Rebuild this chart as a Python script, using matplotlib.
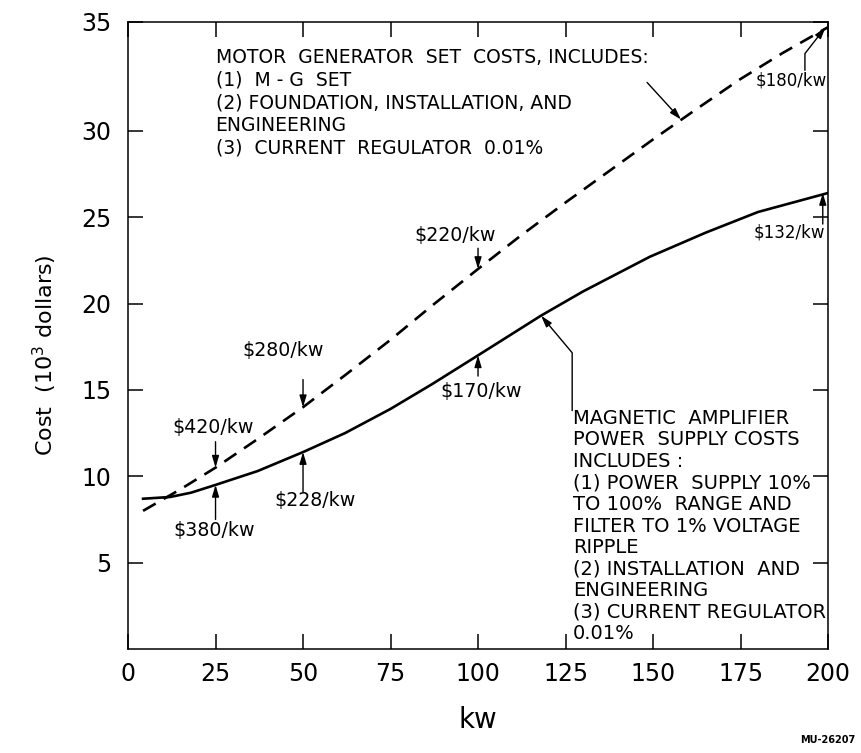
import matplotlib
matplotlib.use("Agg")
import matplotlib.pyplot as plt

plt.rcParams['font.family'] = ['DejaVu Sans']
plt.rcParams['mathtext.default'] = 'regular'

# motor generator set (dashed) and magnetic amplifier supply (solid), cost in 10^3 dollars
mg_kw = [4.3, 15, 25, 37, 50, 62, 75, 87, 100, 112, 125, 137, 150, 162, 175, 187, 200]
mg_cost = [8.0, 9.25, 10.5, 12.15, 14.0, 15.85, 17.9, 19.9, 22.0, 23.9, 25.85, 27.6, 29.5, 31.2, 33.0, 34.5, 36.0]

ma_kw = [4.3, 12, 18, 25, 37, 50, 62, 75, 87, 100, 118, 130, 149, 165, 180, 200]
ma_cost = [8.7, 8.8, 9.05, 9.5, 10.3, 11.4, 12.5, 13.9, 15.35, 17.0, 19.3, 20.7, 22.7, 24.1, 25.3, 26.4]

# unit cost call-outs ($/kw) at given ratings
mg_rate_kw = [25, 50, 100]
mg_rates = [420, 280, 220]
ma_rate_kw = [25, 50, 100]
ma_rates = [380, 228, 170]

mg_text = ("MOTOR  GENERATOR  SET  COSTS, INCLUDES:\n"
           "(1)  M - G  SET\n"
           "(2) FOUNDATION, INSTALLATION, AND\n"
           "ENGINEERING\n"
           "(3)  CURRENT  REGULATOR  0.01%")
ma_text = ("MAGNETIC  AMPLIFIER\n"
           "POWER  SUPPLY COSTS\n"
           "INCLUDES :\n"
           "(1) POWER  SUPPLY 10%\n"
           "TO 100%  RANGE AND\n"
           "FILTER TO 1% VOLTAGE\n"
           "RIPPLE\n"
           "(2) INSTALLATION  AND\n"
           "ENGINEERING\n"
           "(3) CURRENT REGULATOR\n"
           "0.01%")

fig = plt.figure(figsize=(8.61, 7.53), dpi=100)
ax = fig.add_axes([0.1487, 0.1381, 0.813, 0.8327])

ax.plot(mg_kw, mg_cost, color='black', lw=1.9, linestyle=(0, (5.5, 3.5)))
ax.plot(ma_kw, ma_cost, color='black', lw=1.9)

ax.set_xlim(0, 200)
ax.set_ylim(0, 36.3)
ax.set_xticks([0, 25, 50, 75, 100, 125, 150, 175, 200])
ax.set_yticks([5, 10, 15, 20, 25, 30, 36.3], ['5', '10', '15', '20', '25', '30', '35'])
ax.tick_params(direction='in', length=11, width=1.1, top=True, right=True, labelsize=17)
ax.tick_params(axis='x', pad=9)
ax.tick_params(axis='y', pad=12)
for s in ax.spines.values():
    s.set_linewidth(1.1)

ax.set_xlabel('kw', fontsize=20, va='center')
ax.xaxis.set_label_coords(0.5, -0.113)
ax.set_ylabel(r'Cost  (10$^3$ dollars)', fontsize=16, va='center')
ax.yaxis.set_label_coords(-0.119, 0.469)

arrow = dict(arrowstyle='-|>,head_length=0.5,head_width=0.15', color='black', lw=1.0,
             shrinkA=0, shrinkB=0, mutation_scale=14)

# $/kw labels: position of text, start of arrow
mg_label_pos = [(24.3, 12.85), (44.4, 17.3), (93.3, 23.95)]
mg_arrow_from = [12.0, 15.6, 23.2]
for k, r, (tx, ty), ay in zip(mg_rate_kw, mg_rates, mg_label_pos, mg_arrow_from):
    ax.text(tx, ty, f'\\${r}/kw', ha='center', va='center', fontsize=13.7)
    ax.annotate('', xy=(k, r * k / 1000), xytext=(k, ay), arrowprops=arrow)

ma_label_pos = [(24.7, 6.86), (53.3, 8.6), (101, 14.9)]
ma_arrow_from = [7.5, 9.1, 15.8]
for k, r, (tx, ty), ay in zip(ma_rate_kw, ma_rates, ma_label_pos, ma_arrow_from):
    ax.text(tx, ty, f'\\${r}/kw', ha='center', va='center', fontsize=13.7)
    ax.annotate('', xy=(k, r * k / 1000), xytext=(k, ay), arrowprops=arrow)

# end-point call-outs at 200 kw
ax.text(189.6, 32.9, '\\$180/kw', ha='center', va='center', fontsize=12)
ax.annotate('', xy=(199.3, 180 * 200 / 1000), xytext=(193.4, 33.5),
            arrowprops=dict(arrow, connectionstyle='angle,angleA=90,angleB=52,rad=0'))
ax.text(189.1, 24.1, '\\$132/kw', ha='center', va='center', fontsize=12)
ax.annotate('', xy=(198.5, 132 * 200 / 1000), xytext=(198.5, 24.6), arrowprops=arrow)

# descriptive notes with pointers to each curve
ax.text(25, 34.8, mg_text, ha='left', va='top', fontsize=13.5, linespacing=1.24)
ax.annotate('', xy=(158, 30.65), xytext=(148.3, 32.8), arrowprops=arrow)

ax.text(127.1, 13.9, ma_text, ha='left', va='top', fontsize=14, linespacing=1.17)
ax.annotate('', xy=(118, 19.3), xytext=(126.9, 13.8),
            arrowprops=dict(arrow, connectionstyle='angle,angleA=90,angleB=130,rad=0'))

fig.text(0.993, 0.017, 'MU-26207', ha='right', va='center', fontsize=7, weight='bold')

fig.savefig('out.png', dpi=100)
